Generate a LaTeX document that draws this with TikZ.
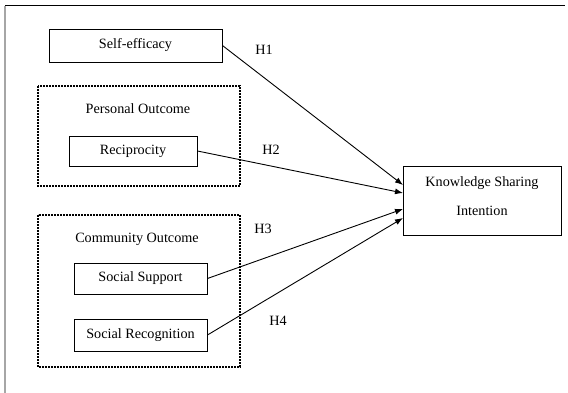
\documentclass[tikz,border=0pt]{standalone}
\usepackage{fontspec}
\setmainfont{Liberation Serif}
\usetikzlibrary{arrows.meta}
\begin{document}
\begin{tikzpicture}[x=1pt,y=-1pt,
  box/.style={draw,line width=0.9pt,inner sep=0pt},
  grp/.style={draw,line width=1.6pt,dash pattern=on 1.6pt off 1.4pt},
  lbl/.style={font=\fontsize{14.2}{16}\selectfont},
  arr/.style={line width=0.9pt,-{Latex[length=8pt,width=6pt]}}]
\useasboundingbox (0,0) rectangle (568,393);
\draw[line width=1pt] (5,6) -- (565,6);
\draw[gray!70,line width=1.3pt] (5,6) -- (5,393);
% groups
\draw[grp] (38,86) rectangle (240,186);
\draw[grp] (38,215) rectangle (240,367);
\node[lbl] (po) at (138,109) {Personal Outcome};
\node[lbl] (co) at (137,239) {Community Outcome};
% boxes
\node[box,lbl,minimum width=173pt,minimum height=33pt] (se) at (135.5,45.5) {Self-efficacy};
\node[box,lbl,minimum width=128pt,minimum height=30pt] (re) at (133,151) {Reciprocity};
\node[box,lbl,minimum width=133pt,minimum height=31pt] (ss) at (140.5,278.5) {Social Support};
\node[box,lbl,minimum width=133pt,minimum height=32pt] (sr) at (140.5,335) {Social Recognition};
\node[box,minimum width=158pt,minimum height=69pt] (ksi) at (482,200.5) {};
\node[lbl] (k1) at (482,183) {Knowledge Sharing};
\node[lbl] (k2) at (482,211) {Intention};
% arrows
\coordinate (t1) at (403,185);
\coordinate (t2) at (403,193);
\coordinate (t3) at (403,209);
\coordinate (t4) at (403,218);
\draw[arr] (se.east) -- (t1);
\draw[arr] (re.east) -- (t2);
\draw[arr] (ss.east) -- (t3);
\draw[arr] (sr.east) -- (t4);
\node[lbl] (h1) at (264,50) {H1};
\node[lbl] (h2) at (271,150) {H2};
\node[lbl] (h3) at (263,229) {H3};
\node[lbl] (h4) at (278,321) {H4};
\end{tikzpicture}
\end{document}
